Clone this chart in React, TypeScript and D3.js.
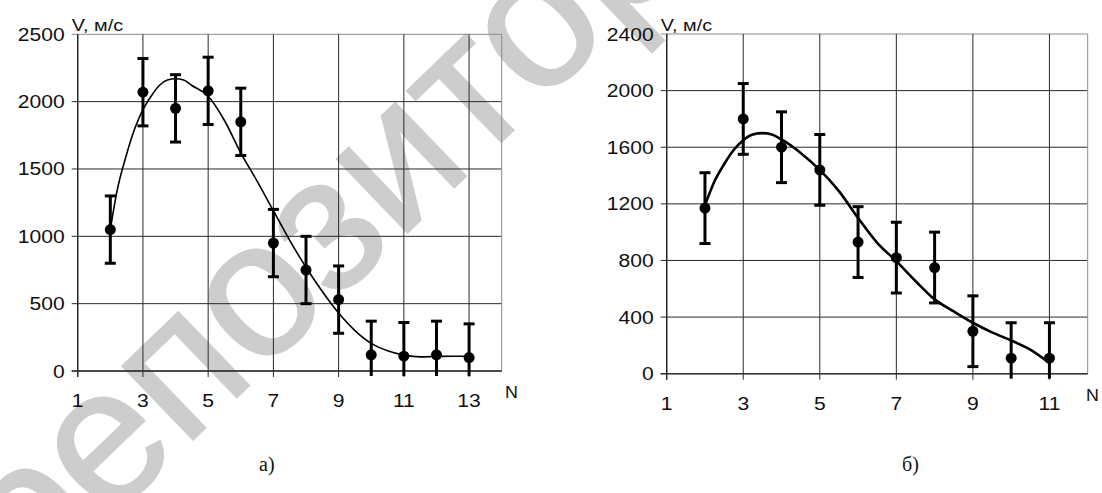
import React from 'react';
import * as d3 from 'd3';

// ---------- data (panel а) ----------
const leftN = [2, 3, 4, 5, 6, 7, 8, 9, 10, 11, 12, 13];
const leftV = [1050, 2070, 1950, 2080, 1850, 950, 750, 530, 120, 110, 120, 100];
const leftErr = 250;
const leftCurveN = [2, 2.2, 2.5, 2.75, 3, 3.25, 3.5, 3.75, 4, 4.25, 4.5, 5, 5.5, 6, 6.5, 7, 7.5, 8, 8.5, 9, 9.5, 10, 10.5, 11, 11.5, 12, 12.5, 13];
const leftCurveV = [1050, 1330, 1610, 1800, 1940, 2040, 2120, 2160, 2170, 2160, 2120, 2040, 1860, 1620, 1410, 1190, 970, 770, 590, 430, 300, 205, 150, 118, 105, 108, 110, 110];
const leftYTicks = [0, 500, 1000, 1500, 2000, 2500];
const leftXTicks = [1, 3, 5, 7, 9, 11, 13];

// ---------- data (panel б) ----------
const rightN = [2, 3, 4, 5, 6, 7, 8, 9, 10, 11];
const rightV = [1170, 1800, 1600, 1440, 930, 820, 750, 300, 110, 110];
const rightErr = 250;
const rightCurveN = [2, 2.25, 2.5, 2.75, 3, 3.25, 3.5, 3.75, 4, 4.5, 5, 5.5, 6, 6.5, 7, 7.5, 8, 8.5, 9, 9.5, 10, 10.5, 11];
const rightCurveV = [1190, 1360, 1480, 1580, 1650, 1690, 1700, 1690, 1655, 1560, 1440, 1290, 1100, 925, 795, 655, 525, 440, 360, 292, 235, 170, 75];
const rightYTicks = [0, 400, 800, 1200, 1600, 2000, 2400];
const rightXTicks = [1, 3, 5, 7, 9, 11];

const yLabel = 'V, м/с';
const xLabel = 'N';
const captions = ['а)', 'б)'];
const watermark = 'репозиторий';

const SANS = '"Liberation Sans", Arial, sans-serif';
const SERIF = '"Liberation Serif", "Times New Roman", serif';

type PanelProps = {
  left: number; right: number; top: number; bottom: number;
  xDomain: [number, number]; yDomain: [number, number];
  xTicks: number[]; yTicks: number[];
  n: number[]; v: number[]; err: number;
  cn: number[]; cv: number[]; curveWidth: number;
  nLabelX: number; nLabelY: number;
};

function Panel(p: PanelProps) {
  const x = d3.scaleLinear().domain(p.xDomain).range([p.left, p.right]);
  const y = d3.scaleLinear().domain(p.yDomain).range([p.bottom, p.top]);
  const pts: [number, number][] = p.cn.map((c, i) => [c, p.cv[i]]);
  const line = d3.line<[number, number]>()
    .x(d => x(d[0]))
    .y(d => y(d[1]))
    .curve(d3.curveMonotoneX);
  const sx = 1.14;
  return (
    <g>
      {p.yTicks.map(t => (
        <line key={'h' + t} x1={p.left - 6} x2={p.right} y1={y(t)} y2={y(t)}
          stroke={t === p.yDomain[1] ? '#8a8a8a' : '#2a2a2a'} strokeWidth={1} />
      ))}
      {p.xTicks.map(t => (
        <line key={'v' + t} x1={x(t)} x2={x(t)} y1={p.top} y2={p.bottom + 6}
          stroke="#2a2a2a" strokeWidth={1} />
      ))}
      <line x1={p.right} x2={p.right} y1={p.top} y2={p.bottom} stroke="#8a8a8a" strokeWidth={1} />
      <line x1={p.left} x2={p.left} y1={p.top} y2={p.bottom + 6} stroke="#222" strokeWidth={1.3} />
      <line x1={p.left - 6} x2={p.right} y1={p.bottom} y2={p.bottom} stroke="#333" strokeWidth={1.5} />
      {p.yTicks.map(t => (
        <text key={'yl' + t} transform={`translate(${p.left - 13},${y(t) + 6.5}) scale(${sx},1)`}
          textAnchor="end" fontFamily={SANS} fontSize={18.5} fill="#111">{t}</text>
      ))}
      {p.xTicks.map(t => (
        <text key={'xl' + t} transform={`translate(${x(t)},${p.bottom + 36}) scale(${sx},1)`}
          textAnchor="middle" fontFamily={SANS} fontSize={18.5} fill="#111">{t}</text>
      ))}
      <text transform={`translate(${p.left - 6},${p.top - 3}) scale(1.2,1)`} fontFamily={SANS} fontSize={16.5} fill="#111">{yLabel}</text>
      <text transform={`translate(${p.nLabelX},${p.nLabelY}) scale(1.05,1)`} fontFamily={SANS} fontSize={17} fill="#111">{xLabel}</text>
      <path d={line(pts) || ''} fill="none" stroke="#000" strokeWidth={p.curveWidth} strokeLinejoin="round" />
      {p.n.map((c, i) => {
        const cx = x(c);
        const hi = y(p.v[i] + p.err);
        const loVal = p.v[i] - p.err;
        const clipped = loVal < p.yDomain[0];
        const lo = clipped ? p.bottom + 5 : y(loVal);
        return (
          <g key={'e' + c}>
            <line x1={cx} x2={cx} y1={hi} y2={lo} stroke="#000" strokeWidth={3} />
            <line x1={cx - 5.5} x2={cx + 5.5} y1={hi} y2={hi} stroke="#000" strokeWidth={3} />
            {!clipped && <line x1={cx - 5.5} x2={cx + 5.5} y1={lo} y2={lo} stroke="#000" strokeWidth={3} />}
            <circle cx={cx} cy={y(p.v[i])} r={5.5} fill="#000" />
          </g>
        );
      })}
    </g>
  );
}

export default function App() {
  return (
    <svg width={1102} height={493} style={{ position: 'absolute', left: 0, top: 0, background: '#fff' }}>
      <rect x={0} y={0} width={1102} height={493} fill="#fff" />
      <text transform="translate(29,598) rotate(-44)" fontFamily={SANS} fontSize={193}
        fill="#cdcdcd" stroke="#cdcdcd" strokeWidth={2}>{watermark}</text>
      <Panel left={77.7} right={501.7} top={34.3} bottom={371}
        xDomain={[1, 14]} yDomain={[0, 2500]} xTicks={leftXTicks} yTicks={leftYTicks}
        n={leftN} v={leftV} err={leftErr} cn={leftCurveN} cv={leftCurveV} curveWidth={1.6}
        nLabelX={505} nLabelY={398} />
      <Panel left={666.7} right={1087.7} top={34} bottom={373.7}
        xDomain={[1, 12]} yDomain={[0, 2400]} xTicks={rightXTicks} yTicks={rightYTicks}
        n={rightN} v={rightV} err={rightErr} cn={rightCurveN} cv={rightCurveV} curveWidth={2.6}
        nLabelX={1086} nLabelY={401} />
      <text x={259} y={471} fontFamily={SERIF} fontSize={20} fill="#111">{captions[0]}</text>
      <text x={902} y={471} fontFamily={SERIF} fontSize={20} fill="#111">{captions[1]}</text>
    </svg>
  );
}
